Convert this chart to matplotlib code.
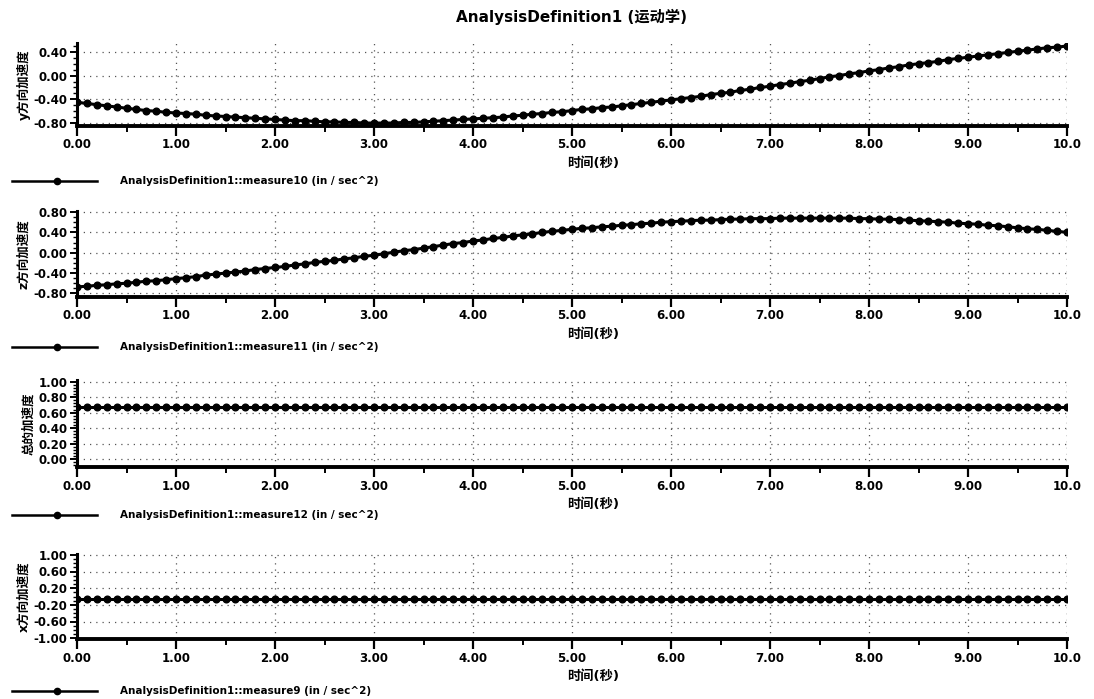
import numpy as np
import matplotlib
matplotlib.use('Agg')
import matplotlib.pyplot as plt
from matplotlib.lines import Line2D
from matplotlib.ticker import MultipleLocator, FixedLocator

plt.rcParams['font.family'] = ['DejaVu Sans', 'Noto Sans CJK SC']
plt.rcParams['font.weight'] = 'bold'

# time axis, one sample every 0.1 s
t = np.arange(101) / 10.0

# measure10 - y direction acceleration
acc_y = [-0.45, -0.47, -0.49, -0.51, -0.53, -0.55, -0.57, -0.59, -0.60, -0.62,
         -0.63, -0.64, -0.65, -0.67, -0.68, -0.69, -0.70, -0.71, -0.72, -0.73,
         -0.74, -0.75, -0.76, -0.76, -0.77, -0.78, -0.78, -0.79, -0.79, -0.80,
         -0.80, -0.80, -0.80, -0.79, -0.79, -0.78, -0.77, -0.76, -0.75, -0.74,
         -0.73, -0.72, -0.71, -0.70, -0.68, -0.67, -0.65, -0.64, -0.62, -0.61,
         -0.59, -0.57, -0.56, -0.54, -0.53, -0.51, -0.49, -0.47, -0.45, -0.43,
         -0.41, -0.39, -0.37, -0.35, -0.32, -0.30, -0.28, -0.25, -0.23, -0.20,
         -0.18, -0.15, -0.13, -0.10, -0.08, -0.05, -0.02, 0.00, 0.03, 0.05,
         0.08, 0.10, 0.13, 0.15, 0.18, 0.20, 0.22, 0.24, 0.27, 0.29,
         0.31, 0.33, 0.35, 0.37, 0.39, 0.41, 0.43, 0.45, 0.47, 0.48,
         0.50]

# measure11 - z direction acceleration
acc_z = [-0.67, -0.66, -0.64, -0.63, -0.61, -0.60, -0.58, -0.56, -0.55, -0.53,
         -0.51, -0.49, -0.47, -0.44, -0.42, -0.40, -0.38, -0.36, -0.33, -0.31,
         -0.29, -0.27, -0.24, -0.22, -0.19, -0.17, -0.15, -0.12, -0.10, -0.07,
         -0.05, -0.02, 0.01, 0.04, 0.06, 0.09, 0.12, 0.15, 0.18, 0.20,
         0.23, 0.25, 0.28, 0.30, 0.33, 0.35, 0.37, 0.40, 0.42, 0.44,
         0.46, 0.48, 0.49, 0.51, 0.52, 0.54, 0.55, 0.57, 0.58, 0.60,
         0.61, 0.62, 0.63, 0.64, 0.64, 0.65, 0.66, 0.66, 0.67, 0.67,
         0.67, 0.68, 0.68, 0.68, 0.68, 0.68, 0.68, 0.68, 0.68, 0.67,
         0.67, 0.66, 0.66, 0.65, 0.64, 0.63, 0.62, 0.61, 0.60, 0.58,
         0.57, 0.56, 0.54, 0.53, 0.51, 0.49, 0.47, 0.46, 0.44, 0.42,
         0.40]

# measure12 - total acceleration
acc_total = [0.67, 0.67, 0.67, 0.67, 0.67, 0.67, 0.67, 0.67, 0.67, 0.67,
             0.67, 0.67, 0.67, 0.67, 0.67, 0.67, 0.67, 0.67, 0.67, 0.67,
             0.67, 0.67, 0.67, 0.67, 0.67, 0.67, 0.67, 0.67, 0.67, 0.67,
             0.67, 0.67, 0.67, 0.67, 0.67, 0.67, 0.67, 0.67, 0.67, 0.67,
             0.67, 0.67, 0.67, 0.67, 0.67, 0.67, 0.67, 0.67, 0.67, 0.67,
             0.67, 0.67, 0.67, 0.67, 0.67, 0.67, 0.67, 0.67, 0.67, 0.67,
             0.67, 0.67, 0.67, 0.67, 0.67, 0.67, 0.67, 0.67, 0.67, 0.67,
             0.67, 0.67, 0.67, 0.67, 0.67, 0.67, 0.67, 0.67, 0.67, 0.67,
             0.67, 0.67, 0.67, 0.67, 0.67, 0.67, 0.67, 0.67, 0.67, 0.67,
             0.67, 0.67, 0.67, 0.67, 0.67, 0.67, 0.67, 0.67, 0.67, 0.67,
             0.67]

# measure9 - x direction acceleration
acc_x = [-0.07, -0.07, -0.07, -0.07, -0.07, -0.07, -0.07, -0.07, -0.07, -0.07,
         -0.07, -0.07, -0.07, -0.07, -0.07, -0.07, -0.07, -0.07, -0.07, -0.07,
         -0.07, -0.07, -0.07, -0.07, -0.07, -0.07, -0.07, -0.07, -0.07, -0.07,
         -0.07, -0.07, -0.07, -0.07, -0.07, -0.07, -0.07, -0.07, -0.07, -0.07,
         -0.07, -0.07, -0.07, -0.07, -0.07, -0.07, -0.07, -0.07, -0.07, -0.07,
         -0.07, -0.07, -0.07, -0.07, -0.07, -0.07, -0.07, -0.07, -0.07, -0.07,
         -0.07, -0.07, -0.07, -0.07, -0.07, -0.07, -0.07, -0.07, -0.07, -0.07,
         -0.07, -0.07, -0.07, -0.07, -0.07, -0.07, -0.07, -0.07, -0.07, -0.07,
         -0.07, -0.07, -0.07, -0.07, -0.07, -0.07, -0.07, -0.07, -0.07, -0.07,
         -0.07, -0.07, -0.07, -0.07, -0.07, -0.07, -0.07, -0.07, -0.07, -0.07,
         -0.07]

series = [acc_y, acc_z, acc_total, acc_x]
y_titles = ['y方向加速度', 'z方向加速度', '总的加速度', 'x方向加速度']
legend_names = ['AnalysisDefinition1::measure10 (in / sec^2)',
                'AnalysisDefinition1::measure11 (in / sec^2)',
                'AnalysisDefinition1::measure12 (in / sec^2)',
                'AnalysisDefinition1::measure9 (in / sec^2)']
y_ticks = [[-0.80, -0.40, 0.00, 0.40],
           [-0.80, -0.40, 0.00, 0.40, 0.80],
           [0.00, 0.20, 0.40, 0.60, 0.80, 1.00],
           [-1.00, -0.60, -0.20, 0.20, 0.60, 1.00]]
y_lims = [(-0.85, 0.55), (-0.87, 0.82), (-0.10, 1.02), (-1.02, 1.02)]
y_minor = [0.1, 0.1, 0.04, 0.1]
x_ticklabels = ['0.00', '1.00', '2.00', '3.00', '4.00', '5.00',
                '6.00', '7.00', '8.00', '9.00', '10.0']

W, H = 1094, 699
# pixel boxes (top, bottom) of each panel
boxes = [(43, 126), (211, 297), (380, 467), (554, 639)]
legend_rows = [181, 347, 515, 691]
left, right = 77, 1067

fig = plt.figure(figsize=(W / 100, H / 100), dpi=100)
fig.text((left + right) / 2 / W, 1 - 17 / H, 'AnalysisDefinition1 (运动学)',
         ha='center', va='center', fontsize=11, fontweight='bold')

for i in range(4):
    top, bot = boxes[i]
    ax = fig.add_axes([left / W, 1 - bot / H, (right - left) / W, (bot - top) / H])
    ax.plot(t, series[i], color='black', lw=2.2, marker='o', ms=4.8)
    ax.set_xlim(0, 10)
    ax.set_ylim(*y_lims[i])
    ax.spines['top'].set_visible(False)
    ax.spines['right'].set_visible(False)
    ax.spines['left'].set_linewidth(2.2)
    ax.spines['bottom'].set_linewidth(2.8)

    ax.xaxis.set_major_locator(FixedLocator(range(11)))
    ax.set_xticklabels(x_ticklabels, fontsize=8.5, fontweight='bold')
    ax.xaxis.set_minor_locator(MultipleLocator(0.5))
    ax.yaxis.set_major_locator(FixedLocator(y_ticks[i]))
    ax.set_yticklabels(['%.2f' % v for v in y_ticks[i]], fontsize=8.5, fontweight='bold')
    ax.yaxis.set_minor_locator(MultipleLocator(y_minor[i]))
    ax.tick_params(axis='x', which='major', length=7, width=1.6, pad=2)
    ax.tick_params(axis='x', which='minor', length=4, width=1.4)
    ax.tick_params(axis='y', which='major', length=5, width=1.4, pad=2)
    ax.tick_params(axis='y', which='minor', length=3, width=1.0)

    ax.grid(True, which='major', color='#555555', lw=0.9, linestyle=(0, (1, 4)))
    ax.axvline(10, color='#555555', lw=0.9, linestyle=(0, (1, 4)))

    ax.set_ylabel(y_titles[i], fontsize=9, fontweight='bold', labelpad=2)
    ax.set_xlabel('时间(秒)', fontsize=9.5, fontweight='bold')
    ax.xaxis.set_label_coords((593 - left) / (right - left), -31 / (bot - top))

    ly = 1 - legend_rows[i] / H
    fig.add_artist(Line2D([12 / W, 97 / W], [ly, ly], color='black', lw=1.8))
    fig.add_artist(Line2D([57 / W], [ly], color='black', marker='o', ms=4.5))
    fig.text(120 / W, ly, legend_names[i], fontsize=7.5, fontweight='bold', va='center')

fig.savefig('out.png', dpi=100)
